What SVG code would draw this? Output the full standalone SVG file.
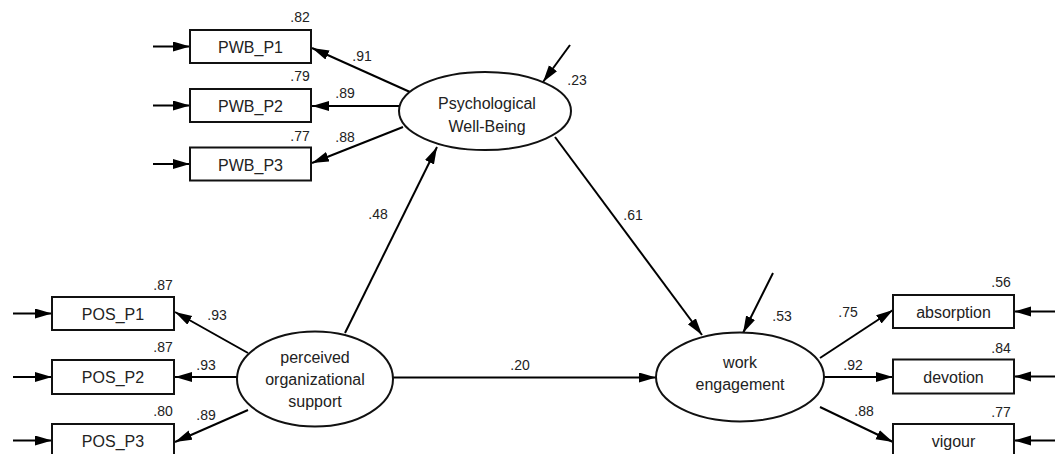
<svg xmlns="http://www.w3.org/2000/svg" width="1055" height="454" viewBox="0 0 1055 454">
<defs>
<marker id="ah" markerUnits="userSpaceOnUse" markerWidth="18" markerHeight="12" refX="17" refY="5" orient="auto">
<path d="M0,0 L17,5 L0,10 z" fill="#000"/>
</marker>
<style>
.box{fill:#fff;stroke:#111;stroke-width:2}
.ell{fill:#fff;stroke:#111;stroke-width:2}
.t{font-family:"Liberation Sans",Arial,sans-serif;font-size:16px;fill:#222;text-anchor:middle}
.n{font-family:"Liberation Sans",Arial,sans-serif;font-size:14px;fill:#222;text-anchor:middle}
.c{stroke:#000;stroke-width:2;fill:none;marker-end:url(#ah)}
</style>
</defs>
<rect width="1055" height="454" fill="#fff"/>
<g id="connectors">
<line class="c" x1="153" y1="46.5" x2="190" y2="46.5"/>
<line class="c" x1="153" y1="105.5" x2="190" y2="105.5"/>
<line class="c" x1="153" y1="164" x2="190" y2="164"/>
<line class="c" x1="410" y1="92" x2="312" y2="48"/>
<line class="c" x1="400" y1="106" x2="312" y2="106"/>
<line class="c" x1="403" y1="127" x2="312" y2="163"/>
<line class="c" x1="570" y1="45" x2="543" y2="82"/>
<line class="c" x1="13" y1="313.5" x2="52" y2="313.5"/>
<line class="c" x1="13" y1="377" x2="52" y2="377"/>
<line class="c" x1="13" y1="440.5" x2="52" y2="440.5"/>
<line class="c" x1="248" y1="353" x2="175" y2="312"/>
<line class="c" x1="237" y1="377" x2="175" y2="377"/>
<line class="c" x1="248" y1="410" x2="175" y2="442"/>
<line class="c" x1="345" y1="333" x2="437" y2="147"/>
<line class="c" x1="555" y1="137" x2="702" y2="335"/>
<line class="c" x1="393" y1="377.5" x2="656" y2="377.5"/>
<line class="c" x1="773" y1="273" x2="743" y2="333"/>
<line class="c" x1="820" y1="358" x2="893" y2="310"/>
<line class="c" x1="824" y1="377" x2="893" y2="377"/>
<line class="c" x1="820" y1="407" x2="893" y2="442"/>
<line class="c" x1="1055" y1="311.5" x2="1014" y2="311.5"/>
<line class="c" x1="1055" y1="376.5" x2="1014" y2="376.5"/>
<line class="c" x1="1055" y1="440.5" x2="1014" y2="440.5"/>
</g>
<g id="labels">
<text class="n" x="300" y="22">.82</text>
<text class="n" x="300" y="81">.79</text>
<text class="n" x="300" y="141">.77</text>
<text class="n" x="362" y="61">.91</text>
<text class="n" x="345" y="98">.89</text>
<text class="n" x="345" y="142">.88</text>
<text class="n" x="577" y="85">.23</text>
<text class="n" x="163" y="290">.87</text>
<text class="n" x="163" y="352">.87</text>
<text class="n" x="163" y="416">.80</text>
<text class="n" x="217" y="320">.93</text>
<text class="n" x="206" y="370">.93</text>
<text class="n" x="206" y="420">.89</text>
<text class="n" x="378" y="219">.48</text>
<text class="n" x="633" y="220">.61</text>
<text class="n" x="520" y="370">.20</text>
<text class="n" x="782" y="321">.53</text>
<text class="n" x="848" y="317">.75</text>
<text class="n" x="853" y="370">.92</text>
<text class="n" x="864" y="416">.88</text>
<text class="n" x="1001" y="287">.56</text>
<text class="n" x="1001" y="353">.84</text>
<text class="n" x="1001" y="417">.77</text>
</g>
<g id="PWB_P1"><rect class="box" x="190" y="30" width="121" height="33"/><text class="t" x="250.5" y="53">PWB_P1</text></g>
<g id="PWB_P2"><rect class="box" x="190" y="89" width="121" height="33"/><text class="t" x="250.5" y="112">PWB_P2</text></g>
<g id="PWB_P3"><rect class="box" x="190" y="147.5" width="121" height="33"/><text class="t" x="250.5" y="170.5">PWB_P3</text></g>
<g id="PWB"><ellipse class="ell" cx="485" cy="111" rx="86" ry="39"/><text class="t" x="487" y="109">Psychological</text><text class="t" x="487" y="132">Well-Being</text></g>
<g id="POS_P1"><rect class="box" x="52" y="297" width="122" height="33"/><text class="t" x="113" y="320">POS_P1</text></g>
<g id="POS_P2"><rect class="box" x="52" y="360" width="122" height="34"/><text class="t" x="113" y="383">POS_P2</text></g>
<g id="POS_P3"><rect class="box" x="52" y="424" width="122" height="33"/><text class="t" x="113" y="447">POS_P3</text></g>
<g id="POS"><ellipse class="ell" cx="315" cy="379" rx="78" ry="47.5"/><text class="t" x="315" y="363">perceived</text><text class="t" x="315" y="385">organizational</text><text class="t" x="315" y="407">support</text></g>
<g id="WE"><ellipse class="ell" cx="740" cy="377" rx="84" ry="44.5"/><text class="t" x="740" y="368">work</text><text class="t" x="740" y="390">engagement</text></g>
<g id="absorption"><rect class="box" x="893" y="295" width="121" height="33"/><text class="t" x="953.5" y="318">absorption</text></g>
<g id="devotion"><rect class="box" x="893" y="359.5" width="121" height="34"/><text class="t" x="953.5" y="383">devotion</text></g>
<g id="vigour"><rect class="box" x="893" y="424" width="121" height="33"/><text class="t" x="953.5" y="447">vigour</text></g>
</svg>
